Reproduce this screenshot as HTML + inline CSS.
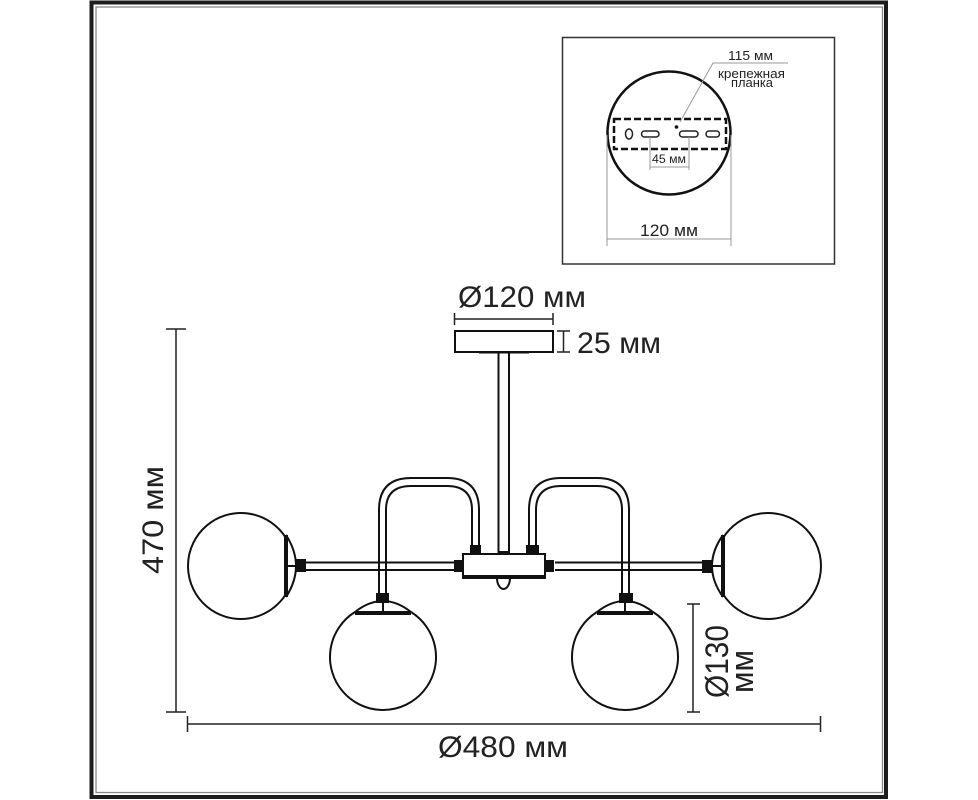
<!DOCTYPE html>
<html><head><meta charset="utf-8"><style>html,body{margin:0;padding:0;background:#fff}svg{display:block}text{font-family:"Liberation Sans",sans-serif;fill:#222}</style></head><body>
<svg width="978" height="800" viewBox="0 0 978 800" fill="none" stroke-linecap="butt">
<rect width="978" height="800" fill="#fff"/>
<rect x="91.5" y="2.5" width="794.5" height="794.5" stroke="#1c1c1c" stroke-width="4"/>
<rect x="96" y="7" width="786.5" height="785.5" stroke="#888" stroke-width="1.3"/>
<rect x="562.500" y="37.500" width="272" height="226.500" stroke="#333" stroke-width="1.500"/>
<circle cx="669" cy="133" r="61.500" stroke="#111" stroke-width="2.500"/>
<rect x="614" y="119" width="112" height="30" fill="#fff" stroke="#111" stroke-width="2.500" stroke-dasharray="7 3"/>
<ellipse cx="629" cy="134" rx="3.500" ry="5" stroke="#222" stroke-width="1.500"/>
<rect x="641.500" y="131" width="17.500" height="6" rx="3" stroke="#222" stroke-width="1.500"/>
<rect x="679.500" y="131" width="18.500" height="6" rx="3" stroke="#222" stroke-width="1.500"/>
<rect x="706" y="131" width="13.500" height="6" rx="3" stroke="#222" stroke-width="1.500"/>
<circle cx="676.500" cy="127" r="1.800" fill="#111"/>
<g stroke="#999" stroke-width="1">
<path d="M788 63H713L680 122"/>
<path d="M650 137V170M689 137V170M650 167H689"/>
<path d="M607 135V246M731 135V246M607 239H731"/>
</g>
<text x="728" y="60" font-size="13" textLength="45" lengthAdjust="spacingAndGlyphs">115 мм</text>
<text x="718" y="78" font-size="12.500" textLength="67" lengthAdjust="spacingAndGlyphs">крепежная</text>
<text x="731" y="87" font-size="12.500" textLength="42" lengthAdjust="spacingAndGlyphs">планка</text>
<text x="652" y="163" font-size="12" textLength="34" lengthAdjust="spacingAndGlyphs">45 мм</text>
<text x="640" y="236" font-size="17" textLength="58" lengthAdjust="spacingAndGlyphs">120 мм</text>

<g stroke="#111" stroke-width="2">
<rect x="455" y="331" width="98" height="21"/>
<path d="M479 352.500H529"/>
<path d="M498.500 353V554M509 353V554"/>
<path d="M306 562.500H455M306 570H455M555 562.500H702M555 570H702"/>
<path d="M379 594V510Q379 478 411 478H447Q479 478 479 510V546"/>
<path d="M386 594V510Q386 486 411 486H447Q472 486 472 510V546"/>
<path d="M529 546V510Q529 478 561 478H597Q629 478 629 510V594"/>
<path d="M536 546V510Q536 486 561 486H597Q622 486 622 510V594"/>
<path d="M497 578A6.500 11 0 0 0 510 578"/>
<rect x="463" y="554" width="82" height="23" fill="#fff"/>
<path d="M462 577H546" stroke-width="4"/>
<path d="M286 535Q306 566 286 597"/>
<path d="M723 535Q701 566 723 597"/>
<path d="M355 612Q383 590 411 612"/>
<path d="M597 612Q625 590 653 612"/>
<path d="M286 538A53 53 0 1 0 286 594"/>
<path d="M723 538A53 53 0 1 1 723 594"/>
<path d="M355 612A53 53 0 1 0 411 612"/>
<path d="M597 612A53 53 0 1 0 653 612"/>
</g>
<g fill="#111">
<rect x="284" y="535" width="4" height="62"/><rect x="721" y="535" width="4" height="62"/>
<rect x="355" y="611" width="56" height="4"/><rect x="597" y="611" width="56" height="4"/>
<rect x="287" y="565" width="10" height="2"/><rect x="711" y="565" width="11" height="2"/>
<rect x="382" y="602" width="2" height="10"/><rect x="624" y="602" width="2" height="10"/>
<rect x="296" y="559" width="10" height="13"/><rect x="702" y="560" width="10" height="13"/>
<rect x="376" y="593" width="13" height="10"/><rect x="619" y="593" width="14" height="10"/>
<rect x="454" y="560" width="9" height="12"/><rect x="545" y="560" width="9" height="12"/>
<rect x="470" y="545" width="11" height="9"/><rect x="526" y="545" width="13" height="9"/>
<rect x="498" y="551" width="11" height="3"/>
</g>

<g stroke="#222" stroke-width="1.500">
<path d="M454 319H553M454.500 313V325M553 313V325"/>
<path d="M563.500 331V352M557 331H570M557 352H570"/>
<path d="M176 329V712M166 329H186M166 712H186"/>
<path d="M693 604V712M687 604H700M687 712H700"/>
<path d="M187 724H821M187.500 716V732M820.500 716V732"/>
</g>
<text x="458" y="307" font-size="30" textLength="128" lengthAdjust="spacingAndGlyphs">Ø120 мм</text>
<text x="577" y="353" font-size="30" textLength="84" lengthAdjust="spacingAndGlyphs">25 мм</text>
<text x="438" y="757" font-size="30" textLength="130" lengthAdjust="spacingAndGlyphs">Ø480 мм</text>
<text transform="translate(163 574) rotate(-90)" font-size="30" textLength="108" lengthAdjust="spacingAndGlyphs">470 мм</text>
<text transform="translate(728 698) rotate(-90)" font-size="32" textLength="73" lengthAdjust="spacingAndGlyphs">Ø130</text>
<text transform="translate(753 693) rotate(-90)" font-size="32" textLength="43" lengthAdjust="spacingAndGlyphs">мм</text>
</svg>
</body></html>
